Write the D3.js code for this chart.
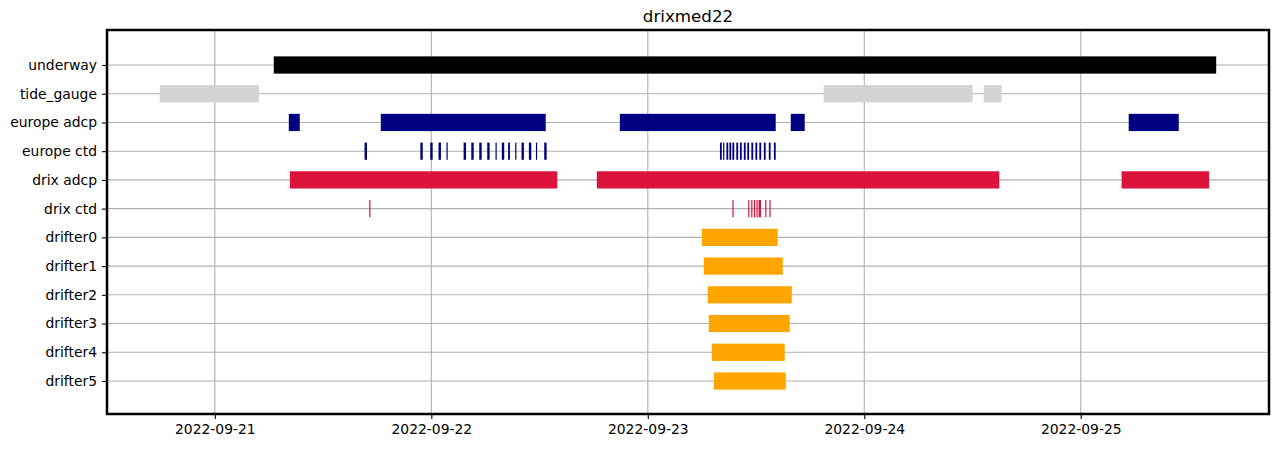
<!DOCTYPE html>
<html>
<head>
<meta charset="utf-8">
<script src="https://cdn.jsdelivr.net/npm/d3@7"></script>
<style>
  body { margin: 0; background: #fff; }
  text { font-family: "DejaVu Sans", sans-serif; fill: #000; }
</style>
</head>
<body>
<div id="timeline"></div>
<script>
// chart data: one list of [start, end] spans per row (UTC)
const rowNames = ["underway", "tide_gauge", "europe adcp", "europe ctd", "drix adcp", "drix ctd",
  "drifter0", "drifter1", "drifter2", "drifter3", "drifter4", "drifter5"];

const underway = [["2022-09-21 06:32", "2022-09-25 15:01"]];
const tideGauge = [
  ["2022-09-20 17:54", "2022-09-21 04:53"],
  ["2022-09-23 19:30", "2022-09-24 12:01"],
  ["2022-09-24 13:15", "2022-09-24 15:14"]
];
const europeAdcp = [
  ["2022-09-21 08:12", "2022-09-21 09:25"],
  ["2022-09-21 18:24", "2022-09-22 12:41"],
  ["2022-09-22 20:54", "2022-09-23 14:11"],
  ["2022-09-23 15:51", "2022-09-23 17:24"],
  ["2022-09-25 05:19", "2022-09-25 10:52"]
];
const europeCtd = [
  ["2022-09-21 16:36", "2022-09-21 16:52"], ["2022-09-21 22:47", "2022-09-21 23:03"],
  ["2022-09-21 23:53", "2022-09-22 00:09"], ["2022-09-22 00:48", "2022-09-22 01:04"],
  ["2022-09-22 01:41", "2022-09-22 01:49"], ["2022-09-22 03:35", "2022-09-22 03:51"],
  ["2022-09-22 04:26", "2022-09-22 04:42"], ["2022-09-22 05:19", "2022-09-22 05:35"],
  ["2022-09-22 06:12", "2022-09-22 06:28"], ["2022-09-22 07:07", "2022-09-22 07:15"],
  ["2022-09-22 07:49", "2022-09-22 08:05"], ["2022-09-22 08:31", "2022-09-22 08:43"],
  ["2022-09-22 09:18", "2022-09-22 09:26"], ["2022-09-22 10:00", "2022-09-22 10:16"],
  ["2022-09-22 10:49", "2022-09-22 11:05"], ["2022-09-22 11:36", "2022-09-22 11:44"],
  ["2022-09-22 12:31", "2022-09-22 12:47"],
  ["2022-09-23 08:00", "2022-09-23 08:12"], ["2022-09-23 08:21", "2022-09-23 08:29"],
  ["2022-09-23 08:43", "2022-09-23 08:55"], ["2022-09-23 09:03", "2022-09-23 09:15"],
  ["2022-09-23 09:23", "2022-09-23 09:35"], ["2022-09-23 09:49", "2022-09-23 10:01"],
  ["2022-09-23 10:13", "2022-09-23 10:25"], ["2022-09-23 10:39", "2022-09-23 10:51"],
  ["2022-09-23 11:02", "2022-09-23 11:14"], ["2022-09-23 11:29", "2022-09-23 11:41"],
  ["2022-09-23 11:56", "2022-09-23 12:08"], ["2022-09-23 12:22", "2022-09-23 12:34"],
  ["2022-09-23 12:52", "2022-09-23 13:04"], ["2022-09-23 13:25", "2022-09-23 13:37"],
  ["2022-09-23 13:59", "2022-09-23 14:11"]
];
const drixAdcp = [
  ["2022-09-21 08:19", "2022-09-22 13:58"],
  ["2022-09-22 18:21", "2022-09-24 14:58"],
  ["2022-09-25 04:32", "2022-09-25 14:14"]
];
const drixCtd = [
  ["2022-09-21 17:07", "2022-09-21 17:15"],
  ["2022-09-23 09:23", "2022-09-23 09:31"], ["2022-09-23 11:08", "2022-09-23 11:16"],
  ["2022-09-23 11:28", "2022-09-23 11:36"], ["2022-09-23 11:46", "2022-09-23 11:54"],
  ["2022-09-23 12:03", "2022-09-23 12:11"], ["2022-09-23 12:17", "2022-09-23 12:33"],
  ["2022-09-23 13:01", "2022-09-23 13:09"], ["2022-09-23 13:29", "2022-09-23 13:37"]
];
const drifter0 = [["2022-09-23 05:59", "2022-09-23 14:24"]];
const drifter1 = [["2022-09-23 06:12", "2022-09-23 14:58"]];
const drifter2 = [["2022-09-23 06:39", "2022-09-23 15:58"]];
const drifter3 = [["2022-09-23 06:46", "2022-09-23 15:44"]];
const drifter4 = [["2022-09-23 07:06", "2022-09-23 15:11"]];
const drifter5 = [["2022-09-23 07:19", "2022-09-23 15:18"]];

const rowColors = ["black", "lightgray", "navy", "navy", "crimson", "crimson",
  "orange", "orange", "orange", "orange", "orange", "orange"];

const margin = {top: 30, right: 10, bottom: 35, left: 107},
    width = 1279 - margin.left - margin.right,
    height = 449 - margin.top - margin.bottom;

const parseTime = d3.utcParse("%Y-%m-%d %H:%M");
const allSpans = [underway, tideGauge, europeAdcp, europeCtd, drixAdcp, drixCtd,
  drifter0, drifter1, drifter2, drifter3, drifter4, drifter5];

// flatten into one record per span
const spans = [];
allSpans.forEach((list, i) => {
    list.forEach(s => spans.push({row: rowNames[i], color: rowColors[i],
        start: parseTime(s[0]), end: parseTime(s[1])}));
});

const svg = d3.select("#timeline")
    .append("svg")
    .attr("width", width + margin.left + margin.right)
    .attr("height", height + margin.top + margin.bottom)
    .append("g")
    .attr("transform", `translate(${margin.left},${margin.top})`);

// x scale with 5% margin like matplotlib
const tMin = d3.min(spans, d => d.start), tMax = d3.max(spans, d => d.end);
const pad = (tMax - tMin) * 0.05;
const xScale = d3.scaleUtc()
    .domain([new Date(+tMin - pad), new Date(+tMax + pad)])
    .range([0, width]);

// y scale: rows top to bottom
const yScale = d3.scalePoint()
    .domain(rowNames)
    .range([35, height - 33]);
const barH = yScale.step() * 0.6;

//grid
svg.append("g")
    .selectAll("line")
    .data(xScale.ticks(d3.utcDay.every(1)))
    .enter()
    .append("line")
    .attr("x1", d => xScale(d))
    .attr("x2", d => xScale(d))
    .attr("y1", 0)
    .attr("y2", height)
    .attr("stroke", "#b0b0b0")
    .attr("stroke-width", 1.1);

svg.append("g")
    .selectAll("line")
    .data(rowNames)
    .enter()
    .append("line")
    .attr("x1", 0)
    .attr("x2", width)
    .attr("y1", d => yScale(d))
    .attr("y2", d => yScale(d))
    .attr("stroke", "#b0b0b0")
    .attr("stroke-width", 1.1);

//bars
svg.append("g")
    .selectAll("rect")
    .data(spans)
    .enter()
    .append("rect")
    .attr("x", d => xScale(d.start))
    .attr("width", d => Math.max(1, xScale(d.end) - xScale(d.start)))
    .attr("y", d => yScale(d.row) - barH / 2)
    .attr("height", barH)
    .attr("fill", d => d.color);

//axes
const xAxis = svg.append("g")
    .attr("transform", `translate(0,${height})`)
    .call(d3.axisBottom(xScale)
        .ticks(d3.utcDay.every(1))
        .tickFormat(d3.utcFormat("%Y-%m-%d"))
        .tickSize(5)
        .tickPadding(5));
xAxis.select(".domain").remove();
xAxis.selectAll("text").attr("font-size", "13.9px");
xAxis.selectAll("line").attr("stroke", "#000").attr("stroke-width", 1.1);

const yAxis = svg.append("g")
    .call(d3.axisLeft(yScale).tickSize(5).tickPadding(5));
yAxis.select(".domain").remove();
yAxis.selectAll("text").attr("font-size", "13.9px");
yAxis.selectAll("line").attr("stroke", "#000").attr("stroke-width", 1.1);

//frame
svg.append("rect")
    .attr("x", 0)
    .attr("y", 0)
    .attr("width", width)
    .attr("height", height)
    .attr("fill", "none")
    .attr("stroke", "#000")
    .attr("stroke-width", 2.5);

//title
svg.append("text")
    .attr("x", width / 2)
    .attr("y", -8)
    .attr("text-anchor", "middle")
    .attr("font-size", "16.7px")
    .text("drixmed22");
</script>
</body>
</html>
